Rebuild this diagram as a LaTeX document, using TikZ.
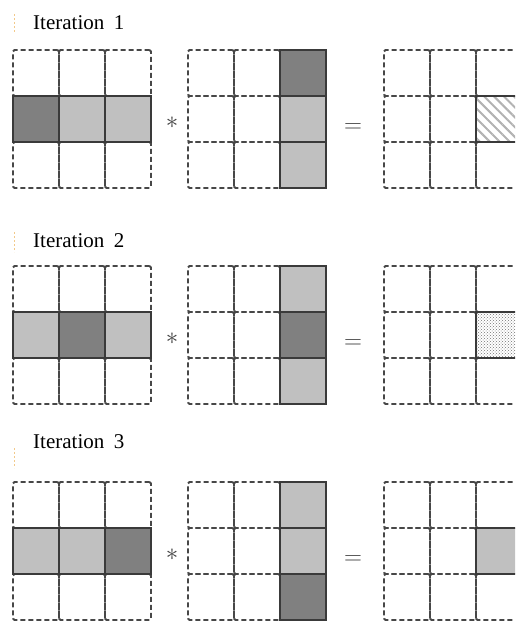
\documentclass[tikz,border=0pt]{standalone}
\usepackage{fontspec}
\setmainfont{Liberation Serif}
\usetikzlibrary{patterns,patterns.meta}
\definecolor{cellline}{HTML}{474747}
\definecolor{hot}{HTML}{808080}
\definecolor{warm}{HTML}{C0C0C0}
\definecolor{edge}{HTML}{3A3A3A}
\definecolor{tick}{HTML}{F2C98A}

\begin{document}
\begin{tikzpicture}[x=1pt,y=-1pt,
  cell/.style={draw=cellline,dash pattern=on 5pt off 3pt,line width=1.8pt,rounded corners=1.5pt,minimum size=46pt,inner sep=0pt,outer sep=0pt},
  pick/.style={draw=edge,solid,line width=1.7pt,minimum size=46pt,inner sep=0pt,outer sep=0pt},
  hotcell/.style={pick,fill=hot},
  warmcell/.style={pick,fill=warm},
  title/.style={anchor=west,font=\fontsize{21}{24}\selectfont,inner sep=0pt},
  op/.style={font=\fontsize{28}{30}\selectfont,inner sep=0pt,text=black!75},
  marker/.style={draw=tick,dash pattern=on 2pt off 2pt,line width=0.8pt}]
\clip (0,0) rectangle (515,622);

% three rows, one per iteration
\foreach \k/\ytop in {1/50,2/266,3/482}{
  \foreach \g/\xleft in {a/13,b/188,c/384}{
    \foreach \r in {1,2,3}{
      \foreach \c in {1,2,3}{
        \node[cell] (\g\k-\r\c) at ({\xleft+46*\c-23},{\ytop+46*\r-23}) {};
      }
    }
  }
  \node[op] (star\k) at (172,\ytop+73) {$\ast$};
  \node[op] (eq\k) at (353,\ytop+78) {$=$};
}

\node[title] (lab1) at (33,23) {Iteration\hspace{0.45em}1};
\node[title] (lab2) at (33,241) {Iteration\hspace{0.45em}2};
\node[title] (lab3) at (33,442) {Iteration\hspace{0.45em}3};
\draw[marker] (14,14) -- (14,33);
\draw[marker] (14,232) -- (14,252);
\draw[marker] (14,448) -- (14,468);

% iteration 1
\node[hotcell] (a1h) at (a1-21) {};
\node[warmcell] (a1w1) at (a1-22) {};
\node[warmcell] (a1w2) at (a1-23) {};
\node[hotcell] (b1h) at (b1-13) {};
\node[warmcell] (b1w1) at (b1-23) {};
\node[warmcell] (b1w2) at (b1-33) {};
\node[pick,pattern={Lines[angle=-45,distance=7pt,line width=2pt]},pattern color=black!30] (c1r) at (c1-23) {};

% iteration 2
\node[warmcell] (a2w1) at (a2-21) {};
\node[hotcell] (a2h) at (a2-22) {};
\node[warmcell] (a2w2) at (a2-23) {};
\node[warmcell] (b2w1) at (b2-13) {};
\node[hotcell] (b2h) at (b2-23) {};
\node[warmcell] (b2w2) at (b2-33) {};
\node[pick,pattern=crosshatch dots,pattern color=black!55] (c2r) at (c2-23) {};

% iteration 3
\node[warmcell] (a3w1) at (a3-21) {};
\node[warmcell] (a3w2) at (a3-22) {};
\node[hotcell] (a3h) at (a3-23) {};
\node[warmcell] (b3w1) at (b3-13) {};
\node[warmcell] (b3w2) at (b3-23) {};
\node[hotcell] (b3h) at (b3-33) {};
\node[warmcell] (c3r) at (c3-23) {};
\end{tikzpicture}
\end{document}
